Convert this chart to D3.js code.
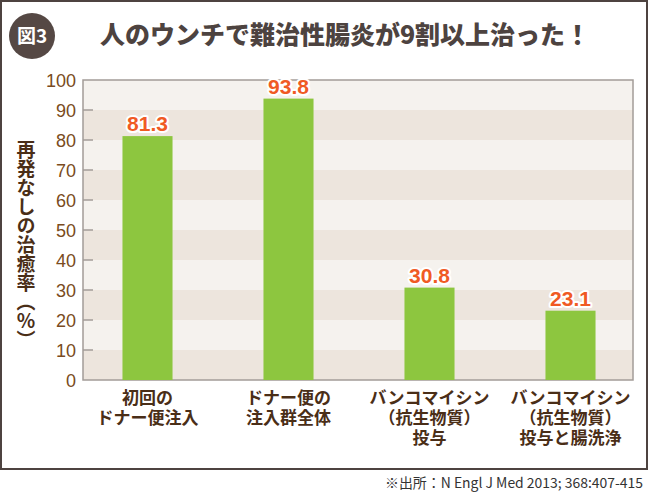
<!DOCTYPE html>
<html><head><meta charset="utf-8">
<script src="https://cdn.jsdelivr.net/npm/d3@7"></script>
<style>
body{margin:0;background:#fff;}
svg{display:block;}
</style></head>
<body>
<svg id="c" width="650" height="500"></svg>
<script>
const categories = [
  ["初回の","ドナー便注入"],
  ["ドナー便の","注入群全体"],
  ["バンコマイシン","（抗生物質）","投与"],
  ["バンコマイシン","（抗生物質）","投与と腸洗浄"]
];
const values = [81.3, 93.8, 30.8, 23.1];
const yTicks = [0,10,20,30,40,50,60,70,80,90,100];
const titleText = "人のウンチで難治性腸炎が9割以上治った！";
const badgeText = "図3";
const yTitle = "再発なしの治癒率（％）";
const sourceText = "※出所：N Engl J Med 2013; 368:407-415";

const svg = d3.select("#c");
const font = "'Noto Sans CJK JP','Noto Sans',sans-serif";
const numFont = "'Liberation Sans',Arial,sans-serif";
const L = 83, R = 633, T = 80, B = 380;

// frame
svg.append("rect").attr("x",1).attr("y",1).attr("width",646).attr("height",468)
  .attr("fill","#fff").attr("stroke","#4e4340").attr("stroke-width",2);

// badge
svg.append("circle").attr("cx",32).attr("cy",36).attr("r",23).attr("fill","#554844");
svg.append("text").attr("x",32).attr("y",43).attr("text-anchor","middle")
  .attr("font-family",font).attr("font-weight",700).attr("font-size",19)
  .attr("fill","#fff").text(badgeText);

// title
svg.append("text").attr("x",345).attr("y",44).attr("text-anchor","middle")
  .attr("font-family",font).attr("font-weight",900).attr("font-size",25)
  .attr("fill","#4d4340").text(titleText);

const y = d3.scaleLinear().domain([0,100]).range([B,T]);
const x = d3.scaleBand().domain(d3.range(categories.length)).range([77,641])
  .paddingInner(0.645).paddingOuter(0.3225);

// bands
const bands = d3.range(10);
svg.append("g").selectAll("rect").data(bands).join("rect")
  .attr("x",L).attr("width",R-L)
  .attr("y",d=>y((d+1)*10)).attr("height",d=>y(d*10)-y((d+1)*10))
  .attr("fill",d=>d%2===0?"#ede5dd":"#f5f2ee");

// plot border
svg.append("rect").attr("x",L).attr("y",T).attr("width",R-L).attr("height",B-T)
  .attr("fill","none").attr("stroke","#a39c98").attr("stroke-width",1.5);

// ticks
svg.append("g").selectAll("line").data(yTicks.slice(1,-1)).join("line")
  .attr("x1",L).attr("x2",L+10).attr("y1",d=>y(d)).attr("y2",d=>y(d))
  .attr("stroke","#a39c98").attr("stroke-width",1.5);

svg.append("g").selectAll("text").data(yTicks).join("text")
  .attr("x",76).attr("y",d=>y(d)+6.5).attr("text-anchor","end")
  .attr("font-family",numFont).attr("font-size",18)
  .attr("fill","#7a4b20").text(d=>d);

// bars
svg.append("g").selectAll("rect").data(values).join("rect")
  .attr("x",(d,i)=>x(i)).attr("width",x.bandwidth())
  .attr("y",d=>y(d)).attr("height",d=>B-y(d))
  .attr("fill","#8dc63f");

// value labels
svg.append("g").selectAll("text").data(values).join("text")
  .attr("x",(d,i)=>x(i)+x.bandwidth()/2).attr("y",d=>y(d)-5)
  .attr("text-anchor","middle")
  .attr("font-family",numFont).attr("font-weight",700).attr("font-size",21)
  .attr("fill","#f05a24").attr("stroke","#fff").attr("stroke-width",4)
  .attr("paint-order","stroke").attr("stroke-linejoin","round")
  .text(d=>d.toFixed(1));

// category labels
const cg = svg.append("g").selectAll("text").data(categories).join("text")
  .attr("x",(d,i)=>x(i)+x.bandwidth()/2).attr("y",404)
  .attr("text-anchor","middle")
  .attr("font-family",font).attr("font-weight",700).attr("font-size",17)
  .attr("fill","#4a2e17");
cg.selectAll("tspan").data(d=>d).join("tspan")
  .attr("x",function(){return this.parentNode.getAttribute("x");})
  .attr("dy",(d,i)=>i===0?0:20).text(d=>d);

// y title
svg.append("text").attr("x",26).attr("y",245)
  .attr("text-anchor","middle")
  .style("writing-mode","vertical-rl")
  .attr("font-family",font).attr("font-weight",700).attr("font-size",19)
  .attr("fill","#4a2e17").text(yTitle);

// source
svg.append("text").attr("x",643).attr("y",488).attr("text-anchor","end")
  .attr("font-family",font).attr("font-size",14)
  .attr("textLength",258).attr("lengthAdjust","spacingAndGlyphs")
  .attr("fill","#333").text(sourceText);
</script>
</body></html>
